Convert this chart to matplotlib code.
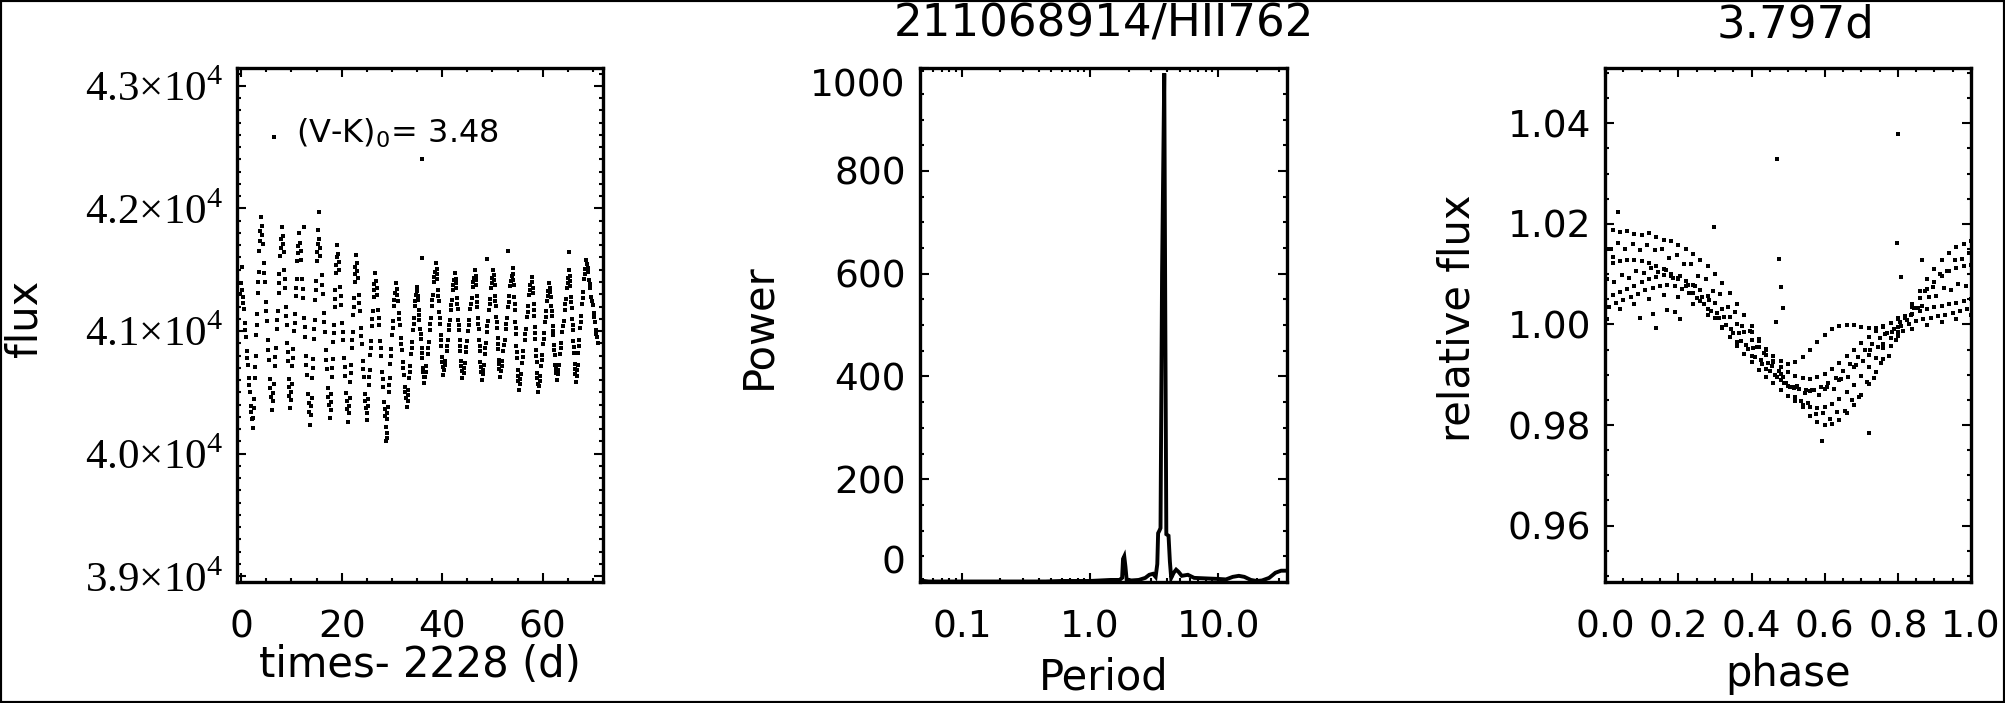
import numpy as np
import matplotlib
matplotlib.use("Agg")
import matplotlib.pyplot as plt
from matplotlib.ticker import MultipleLocator, LogLocator, NullFormatter
from matplotlib.patches import Rectangle

# ---------------- data ----------------
# light curve: points along each falling / rising branch (days since 2228, flux)
lc_time = [
    0.29, 0.49, 0.69, 0.89, 1.09, 1.28, 1.48, 1.68, 1.88, 2.08,
    2.42, 2.57, 2.71, 2.86, 3.00, 3.15, 3.29, 3.44, 3.58, 3.73,
    4.07, 4.27, 4.47, 4.67, 4.87, 5.07, 5.27, 5.47, 5.67, 5.87,
    6.26, 6.46, 6.65, 6.84, 7.03, 7.23, 7.42, 7.61, 7.80, 8.00,
    8.33, 8.47, 8.60, 8.74, 8.88, 9.02, 9.16, 9.30, 9.43, 9.57,
    9.87, 10.04, 10.20, 10.36, 10.52, 10.69, 10.85, 11.01, 11.17, 11.34,
    11.70, 11.90, 12.10, 12.30, 12.50, 12.69, 12.89, 13.09, 13.29, 13.49,
    13.84, 13.99, 14.14, 14.29, 14.44, 14.60, 14.75, 14.90, 15.05, 15.20,
    15.56, 15.77, 15.98, 16.19, 16.40, 16.62, 16.83, 17.04, 17.25, 17.46,
    17.80, 17.94, 18.07, 18.20, 18.33, 18.47, 18.60, 18.73, 18.86, 19.00,
    19.33, 19.53, 19.73, 19.93, 20.13, 20.32, 20.52, 20.72, 20.92, 21.12,
    21.46, 21.60, 21.74, 21.88, 22.02, 22.15, 22.29, 22.43, 22.57, 22.71,
    23.04, 23.24, 23.43, 23.62, 23.81, 24.01, 24.20, 24.39, 24.58, 24.78,
    25.12, 25.27, 25.42, 25.57, 25.72, 25.88, 26.03, 26.18, 26.33, 26.48,
    26.83, 27.03, 27.23, 27.43, 27.63, 27.82, 28.02, 28.22, 28.42, 28.62,
    28.99, 29.17, 29.34, 29.52, 29.69, 29.87, 30.04, 30.22, 30.39, 30.57,
    30.94, 31.14, 31.34, 31.54, 31.74, 31.93, 32.13, 32.33, 32.53, 32.73,
    33.11, 33.29, 33.47, 33.65, 33.83, 34.02, 34.20, 34.38, 34.56, 34.74,
    35.06, 35.20, 35.34, 35.48, 35.62, 35.75, 35.89, 36.03, 36.17, 36.31,
    36.66, 36.87, 37.08, 37.29, 37.50, 37.72, 37.93, 38.14, 38.35, 38.56,
    38.90, 39.04, 39.17, 39.30, 39.43, 39.57, 39.70, 39.83, 39.96, 40.10,
    40.44, 40.65, 40.86, 41.07, 41.28, 41.50, 41.71, 41.92, 42.13, 42.34,
    42.68, 42.82, 42.95, 43.08, 43.21, 43.35, 43.48, 43.61, 43.74, 43.88,
    44.24, 44.47, 44.70, 44.93, 45.16, 45.38, 45.61, 45.84, 46.07, 46.30,
    46.65, 46.77, 46.89, 47.01, 47.13, 47.25, 47.37, 47.49, 47.61, 47.73,
    48.06, 48.27, 48.48, 48.69, 48.90, 49.12, 49.33, 49.54, 49.75, 49.96,
    50.29, 50.41, 50.53, 50.65, 50.77, 50.90, 51.02, 51.14, 51.26, 51.38,
    51.73, 51.96, 52.19, 52.42, 52.65, 52.87, 53.10, 53.33, 53.56, 53.79,
    54.13, 54.24, 54.35, 54.46, 54.57, 54.67, 54.78, 54.89, 55.00, 55.11,
    55.46, 55.69, 55.93, 56.16, 56.40, 56.63, 56.87, 57.10, 57.34, 57.57,
    57.93, 58.05, 58.17, 58.29, 58.41, 58.54, 58.66, 58.78, 58.90, 59.02,
    59.34, 59.54, 59.73, 59.93, 60.13, 60.33, 60.53, 60.73, 60.92, 61.12,
    61.45, 61.59, 61.72, 61.85, 61.98, 62.12, 62.25, 62.38, 62.51, 62.65,
    63.01, 63.24, 63.47, 63.70, 63.93, 64.15, 64.38, 64.61, 64.84, 65.07,
    65.41, 65.53, 65.64, 65.76, 65.87, 65.99, 66.10, 66.22, 66.33, 66.45,
    66.75, 66.93, 67.12, 67.31, 67.50, 67.68, 67.87, 68.06, 68.25, 68.43,
    68.84, 69.05, 69.27, 69.49, 69.70, 69.92, 70.13, 70.35, 70.57, 70.78,
]
lc_flux = [
    41279, 41177, 41064, 40951, 40839, 40726, 40613, 40500, 40387, 40286,
    40293, 40449, 40621, 40794, 40966, 41139, 41312, 41484, 41657, 41812,
    41854, 41712, 41555, 41397, 41239, 41081, 40924, 40766, 40608, 40466,
    40431, 40565, 40715, 40865, 41014, 41164, 41313, 41463, 41613, 41747,
    41778, 41645, 41496, 41348, 41200, 41052, 40904, 40755, 40607, 40474,
    40441, 40570, 40712, 40855, 40998, 41141, 41283, 41426, 41569, 41697,
    41719, 41578, 41422, 41266, 41109, 40953, 40797, 40640, 40484, 40343,
    40314, 40457, 40616, 40775, 40934, 41093, 41252, 41411, 41570, 41713,
    41747, 41609, 41456, 41302, 41149, 40995, 40842, 40688, 40535, 40396,
    40360, 40487, 40628, 40769, 40911, 41052, 41193, 41335, 41476, 41603,
    41630, 41500, 41356, 41212, 41068, 40924, 40780, 40636, 40492, 40362,
    40329, 40451, 40587, 40723, 40859, 40995, 41131, 41267, 41403, 41525,
    41553, 41432, 41297, 41163, 41028, 40894, 40759, 40625, 40490, 40369,
    40335, 40442, 40562, 40682, 40801, 40921, 41040, 41160, 41280, 41387,
    41408, 41296, 41171, 41046, 40921, 40795, 40670, 40545, 40420, 40308,
    40279, 40384, 40501, 40618, 40735, 40852, 40969, 41086, 41203, 41308,
    41340, 41249, 41148, 41048, 40947, 40846, 40746, 40645, 40544, 40453,
    40432, 40520, 40618, 40716, 40814, 40912, 41010, 41107, 41205, 41293,
    41323, 41252, 41173, 41094, 41015, 40936, 40858, 40779, 40700, 40629,
    40623, 40711, 40809, 40907, 41005, 41103, 41201, 41298, 41396, 41484,
    41507, 41425, 41334, 41243, 41152, 41061, 40970, 40879, 40788, 40706,
    40683, 40758, 40841, 40924, 41007, 41090, 41173, 41255, 41338, 41413,
    41428, 41351, 41266, 41180, 41094, 41009, 40923, 40838, 40752, 40675,
    40659, 40739, 40827, 40915, 41004, 41092, 41180, 41268, 41357, 41436,
    41453, 41372, 41283, 41193, 41103, 41014, 40924, 40834, 40745, 40664,
    40646, 40727, 40816, 40906, 40996, 41085, 41175, 41265, 41354, 41435,
    41454, 41376, 41289, 41202, 41115, 41028, 40941, 40854, 40767, 40689,
    40672, 40752, 40840, 40929, 41017, 41105, 41194, 41282, 41371, 41450,
    41462, 41373, 41274, 41175, 41076, 40976, 40877, 40778, 40679, 40589,
    40566, 40649, 40742, 40834, 40927, 41019, 41111, 41204, 41296, 41379,
    41397, 41313, 41219, 41125, 41031, 40937, 40844, 40750, 40656, 40572,
    40550, 40630, 40718, 40807, 40895, 40983, 41072, 41160, 41249, 41328,
    41351, 41280, 41201, 41122, 41043, 40964, 40885, 40806, 40727, 40656,
    40646, 40727, 40816, 40906, 40996, 41085, 41175, 41265, 41354, 41435,
    41452, 41370, 41279, 41188, 41097, 41006, 40915, 40824, 40733, 40651,
    40637, 40726, 40825, 40925, 41024, 41123, 41223, 41322, 41421, 41510,
    41546, 41485, 41417, 41349, 41281, 41213, 41145, 41077, 41009, 40948,
]
# light curve: further points between the ones above, branch by branch
lc_time2 = [
    0.39, 0.79, 1.19, 1.58, 1.98, 2.50, 2.79, 3.08, 3.36, 3.65,
    4.17, 4.57, 4.97, 5.37, 5.77, 6.36, 6.74, 7.13, 7.52, 7.90,
    8.40, 8.67, 8.95, 9.23, 9.50, 9.95, 10.28, 10.61, 10.93, 11.26,
    11.80, 12.20, 12.60, 12.99, 13.39, 13.92, 14.22, 14.52, 14.82, 15.12,
    15.67, 16.09, 16.51, 16.93, 17.35, 17.87, 18.13, 18.40, 18.67, 18.93,
    19.43, 19.83, 20.23, 20.62, 21.02, 21.53, 21.81, 22.09, 22.36, 22.64,
    23.14, 23.52, 23.91, 24.30, 24.68, 25.20, 25.50, 25.80, 26.10, 26.40,
    26.93, 27.33, 27.73, 28.12, 28.52, 29.08, 29.43, 29.78, 30.13, 30.48,
    31.04, 31.44, 31.84, 32.23, 32.63, 33.20, 33.56, 33.93, 34.29, 34.65,
    35.13, 35.41, 35.69, 35.96, 36.24, 36.77, 37.19, 37.61, 38.03, 38.45,
    38.97, 39.23, 39.50, 39.77, 40.03, 40.55, 40.97, 41.39, 41.81, 42.23,
    42.75, 43.01, 43.28, 43.55, 43.81, 44.35, 44.81, 45.27, 45.73, 46.19,
    46.71, 46.95, 47.19, 47.43, 47.67, 48.17, 48.59, 49.01, 49.43, 49.85,
    50.35, 50.59, 50.84, 51.08, 51.32, 51.84, 52.30, 52.76, 53.22, 53.68,
    54.18, 54.40, 54.62, 54.84, 55.06, 55.57, 56.04, 56.52, 56.99, 57.46,
    57.99, 58.23, 58.48, 58.72, 58.96, 59.44, 59.83, 60.23, 60.63, 61.02,
    61.52, 61.78, 62.05, 62.32, 62.58, 63.12, 63.58, 64.04, 64.50, 64.96,
    65.47, 65.70, 65.93, 66.16, 66.39, 66.84, 67.22, 67.59, 67.97, 68.34,
    68.94, 69.38, 69.81, 70.24, 70.68,
]
lc_flux2 = [
    41228, 41008, 40782, 40557, 40337, 40371, 40708, 41053, 41398, 41735,
    41783, 41476, 41160, 40845, 40537, 40498, 40790, 41089, 41388, 41680,
    41711, 41422, 41126, 40829, 40540, 40506, 40784, 41069, 41355, 41633,
    41649, 41344, 41031, 40719, 40414, 40385, 40695, 41013, 41331, 41641,
    41678, 41379, 41072, 40765, 40466, 40423, 40699, 40981, 41264, 41540,
    41565, 41284, 40996, 40708, 40427, 40390, 40655, 40927, 41199, 41464,
    41492, 41230, 40961, 40692, 40430, 40389, 40622, 40861, 41100, 41333,
    41352, 41108, 40858, 40608, 40364, 40331, 40559, 40793, 41027, 41255,
    41294, 41098, 40897, 40695, 40499, 40476, 40667, 40863, 41059, 41249,
    41287, 41133, 40976, 40818, 40665, 40667, 40858, 41054, 41250, 41440,
    41466, 41289, 41107, 40924, 40747, 40721, 40882, 41048, 41214, 41376,
    41390, 41223, 41052, 40880, 40713, 40699, 40871, 41048, 41224, 41396,
    41413, 41238, 41058, 40879, 40704, 40686, 40861, 41041, 41220, 41395,
    41415, 41246, 41072, 40898, 40728, 40712, 40884, 41061, 41238, 41410,
    41418, 41224, 41026, 40828, 40634, 40608, 40788, 40973, 41158, 41338,
    41355, 41172, 40984, 40797, 40614, 40590, 40762, 40939, 41116, 41288,
    41315, 41161, 41003, 40846, 40692, 40686, 40861, 41041, 41220, 41395,
    41411, 41234, 41052, 40869, 40692, 40681, 40875, 41074, 41272, 41466,
    41515, 41383, 41247, 41111, 40978,
]
# light curve: maxima / minima of each cycle
ext_time = [0.09, 2.28, 3.87, 6.07, 8.19, 9.71, 11.50, 13.69, 15.35, 17.67, 19.13, 21.32,
            22.85, 24.97, 26.63, 28.82, 30.74, 32.93, 34.92, 36.45, 38.77, 40.23, 42.55,
            44.01, 46.53, 47.85, 50.17, 51.50, 54.02, 55.22, 57.81, 59.14, 61.32, 62.78,
            65.30, 66.56, 68.62, 71.00]
ext_flux = [41335, 40207, 41933, 40356, 41852, 40370, 41797, 40234, 41824, 40289, 41702, 40261,
            41620, 40275, 41471, 40220, 41390, 40383, 41362, 40574, 41553, 40642, 41471,
            40615, 41498, 40601, 41498, 40628, 41512, 40520, 41444, 40506, 41390, 40601,
            41498, 40587, 41580, 40900]
# light curve: isolated points
odd_time = [-0.24, -0.05, 0.16, 6.53, 12.50, 15.40, 28.75, 28.95, 29.08, 36.04, 36.04,
            48.94, 53.16, 65.30]
odd_flux = [41300, 41390, 41520, 42586, 41846, 41969, 40100, 40166, 40125, 41598, 42402,
            41586, 41653, 41643]

# periodogram
period_vals = [0.047, 0.055, 0.07, 0.1, 0.14, 0.2, 0.3, 0.45, 0.6, 0.8, 1.0, 1.2, 1.45, 1.7,
               1.78, 1.81, 1.85, 1.89, 1.93, 2.1, 2.4, 2.7, 2.9, 3.1, 3.25, 3.35, 3.4, 3.48,
               3.55, 3.65, 3.797, 3.87, 3.94, 4.1, 4.2, 4.3, 4.5, 4.7, 4.9, 5.2, 5.8, 6.5,
               8.0, 10.0, 11.5, 13.0, 14.5, 16.0, 18.0, 20.0, 22.0, 25.0, 28.0, 31.0, 34.7]
power_vals = [3, 1, 1, 1, 1, 1, 1, 1, 2, 2, 2, 3, 4, 4,
              8, 45, 50, 30, 5, 3, 4, 8, 14, 16, 10, 35, 95, 100,
              105, 600, 990, 500, 93, 90, 40, 8, 18, 24, 20, 12, 14, 8,
              7, 6, 5, 10, 12, 10, 4, 2, 3, 8, 18, 22, 22]

# phase-folded curve (P = 3.797 d)
phase_grid = [0.00, 0.02, 0.04, 0.06, 0.08, 0.10, 0.12, 0.14, 0.16, 0.18, 0.20, 0.22, 0.24,
              0.26, 0.28, 0.30, 0.32, 0.34, 0.36, 0.38, 0.40, 0.42, 0.44, 0.46, 0.48, 0.50,
              0.52, 0.54, 0.56, 0.58, 0.60, 0.62, 0.64, 0.66, 0.68, 0.70, 0.72, 0.74, 0.76,
              0.78, 0.80, 0.82, 0.84, 0.86, 0.88, 0.90, 0.92, 0.94, 0.96, 0.98, 1.00]
relflux_upper = [1.0192, 1.0188, 1.0183, 1.0186, 1.0180, 1.0178, 1.0181, 1.0174, 1.0168, 1.0165,
                 1.0158, 1.0150, 1.0140, 1.0128, 1.0116, 1.0100, 1.0082, 1.0062, 1.0041, 1.0018,
                 0.9996, 0.9972, 0.9950, 0.9925, 0.9902, 0.9878, 0.9856, 0.9836, 0.9818, 0.9806,
                 0.9800, 0.9802, 0.9810, 0.9823, 0.9840, 0.9860, 0.9882, 0.9906, 0.9932, 0.9958,
                 0.9985, 1.0012, 1.0040, 1.0066, 1.0090, 1.0110, 1.0128, 1.0142, 1.0153, 1.0160,
                 1.0165]
relflux_main = [1.0052, 1.0058, 1.0064, 1.0070, 1.0077, 1.0084, 1.0090, 1.0095, 1.0098, 1.0097,
                1.0093, 1.0087, 1.0078, 1.0068, 1.0056, 1.0043, 1.0030, 1.0015, 1.0000, 0.9985,
                0.9970, 0.9955, 0.9940, 0.9927, 0.9915, 0.9905, 0.9898, 0.9893, 0.9892, 0.9895,
                0.9902, 0.9912, 0.9924, 0.9937, 0.9950, 0.9963, 0.9975, 0.9986, 0.9995, 1.0003,
                1.0010, 1.0016, 1.0021, 1.0026, 1.0030, 1.0034, 1.0037, 1.0040, 1.0043, 1.0047,
                1.0050]
relflux_mid = [1.0118, 1.0122, 1.0126, 1.0128, 1.0129, 1.0127, 1.0123, 1.0117, 1.0110, 1.0101,
               1.0090, 1.0077, 1.0063, 1.0047, 1.0030, 1.0012, 0.9994, 0.9976, 0.9958, 0.9941,
               0.9925, 0.9910, 0.9896, 0.9883, 0.9870, 0.9858, 0.9848, 0.9840, 0.9835, 0.9833,
               0.9836, 0.9842, 0.9852, 0.9865, 0.9880, 0.9897, 0.9915, 0.9934, 0.9954, 0.9974,
               0.9994, 1.0014, 1.0034, 1.0053, 1.0070, 1.0085, 1.0097, 1.0106, 1.0112, 1.0116,
               1.0119]
phase_grid2 = [0.01, 0.03, 0.05, 0.07, 0.09, 0.11, 0.13, 0.15, 0.17, 0.19, 0.21, 0.23, 0.25,
               0.27, 0.29, 0.31, 0.33, 0.35, 0.37, 0.39, 0.41, 0.43, 0.45, 0.47, 0.49, 0.51,
               0.53, 0.55, 0.57, 0.59, 0.61, 0.63, 0.65, 0.67, 0.69, 0.71, 0.73, 0.75, 0.77,
               0.79, 0.81, 0.83, 0.85, 0.87, 0.89, 0.91, 0.93, 0.95, 0.97, 0.99]
relflux_main2 = [1.0035, 1.0042, 1.0048, 1.0055, 1.0061, 1.0068, 1.0072, 1.0077, 1.0078, 1.0076,
                 1.0070, 1.0062, 1.0052, 1.0040, 1.0027, 1.0013, 0.9998, 0.9983, 0.9967, 0.9951,
                 0.9936, 0.9921, 0.9907, 0.9895, 0.9884, 0.9876, 0.9871, 0.9869, 0.9870, 0.9875,
                 0.9883, 0.9894, 0.9907, 0.9921, 0.9935, 0.9949, 0.9962, 0.9973, 0.9982, 0.9990,
                 0.9996, 1.0001, 1.0006, 1.0010, 1.0013, 1.0016, 1.0019, 1.0022, 1.0026, 1.0031]
phase_grid3 = [0.005, 0.025, 0.045, 0.065, 0.085, 0.105, 0.125, 0.145, 0.165, 0.185, 0.205,
               0.225, 0.245, 0.265, 0.285, 0.305, 0.325, 0.345, 0.365, 0.385, 0.405, 0.425,
               0.445, 0.465, 0.485, 0.505, 0.525, 0.545, 0.565, 0.585, 0.605, 0.625, 0.645,
               0.665, 0.685, 0.705, 0.725, 0.745, 0.765, 0.785, 0.805, 0.825, 0.845, 0.865,
               0.885, 0.905, 0.925, 0.945, 0.965, 0.985]
relflux_between = [1.0091, 1.0085, 1.0099, 1.0092, 1.0106, 1.0102, 1.0113, 1.0104, 1.0109, 1.0093,
                   1.0096, 1.0079, 1.0076, 1.0054, 1.0049, 1.0023, 1.0015, 0.9990, 0.9983, 0.9960,
                   0.9953, 0.9929, 0.9924, 0.9900, 0.9896, 0.9876, 0.9877, 0.9864, 0.9869, 0.9860,
                   0.9875, 0.9872, 0.9891, 0.9895, 0.9919, 0.9927, 0.9950, 0.9956, 0.9981, 0.9984,
                   1.0005, 1.0009, 1.0032, 1.0037, 1.0055, 1.0056, 1.0073, 1.0068, 1.0081, 1.0076]
phase_grid4 = [0.015, 0.035, 0.055, 0.075, 0.095, 0.115, 0.135, 0.155, 0.175, 0.195, 0.215,
               0.235, 0.255, 0.275, 0.295, 0.315, 0.335, 0.355, 0.375, 0.395, 0.415, 0.435,
               0.455, 0.475, 0.495, 0.515, 0.535, 0.555, 0.575, 0.595, 0.615, 0.635, 0.655,
               0.675, 0.695, 0.715, 0.735, 0.755, 0.775, 0.795, 0.815, 0.835, 0.855, 0.875,
               0.895, 0.915, 0.935, 0.955, 0.975, 0.995]
relflux_high = [1.0150, 1.0161, 1.0151, 1.0160, 1.0149, 1.0158, 1.0149, 1.0150, 1.0133, 1.0138,
                1.0120, 1.0120, 1.0097, 1.0091, 1.0067, 1.0060, 1.0035, 1.0024, 0.9996, 0.9986,
                0.9956, 0.9944, 0.9917, 0.9908, 0.9883, 0.9873, 0.9848, 0.9844, 0.9822, 0.9823,
                0.9812, 0.9826, 0.9828, 0.9849, 0.9856, 0.9885, 0.9894, 0.9923, 0.9937, 0.9970,
                0.9987, 1.0018, 1.0033, 1.0066, 1.0075, 1.0101, 1.0107, 1.0128, 1.0130, 1.0143]
phase_grid5 = [0.00, 0.04, 0.08, 0.12, 0.16, 0.20, 0.24, 0.28, 0.32, 0.36, 0.40, 0.44, 0.48,
               0.52, 0.56, 0.60, 0.64, 0.68, 0.72, 0.76, 0.80, 0.84, 0.88, 0.92, 0.96, 1.00]
relflux_low = [1.0022, 1.0030, 1.0041, 1.0050, 1.0058, 1.0054, 1.0040, 1.0018, 0.9992, 0.9965,
               0.9938, 0.9912, 0.9890, 0.9875, 0.9868, 0.9872, 0.9890, 0.9915, 0.9940, 0.9962,
               0.9978, 0.9990, 0.9998, 1.0004, 1.0010, 1.0018]
phase_late = [0.40, 0.42, 0.44, 0.46, 0.48, 0.50, 0.52, 0.54, 0.56, 0.58, 0.60,
              0.62, 0.64, 0.66, 0.68, 0.70, 0.72, 0.74, 0.76, 0.78, 0.80]
relflux_late = [0.9985, 0.9968, 0.9952, 0.9938, 0.9928, 0.9922, 0.9925, 0.9935, 0.9950, 0.9966,
                0.9980, 0.9990, 0.9996, 0.9999, 0.9998, 0.9995, 0.9992, 0.9992, 0.9996, 1.0003,
                1.0012]
phase_extra = [0.035, 0.138, 0.297, 0.466, 0.471, 0.476, 0.481, 0.487, 0.594, 0.722, 0.797,
               0.801, 0.809, 0.866, 0.095, 0.130, 0.170, 0.190, 0.205, 0.005, 0.010, 0.020]
relflux_extra = [1.0224, 0.9992, 1.0193, 1.0004, 1.0328, 1.0130, 1.0074, 1.0032, 0.9768, 0.9784,
                 1.0161, 1.0379, 1.0095, 1.0129, 1.0012, 1.0020, 1.0028, 1.0025, 1.0010, 1.0010,
                 1.0150, 1.0135]

lc_ticks = [39000, 40000, 41000, 42000, 43000]
lc_ticklabels = ["3.9\u00d710$^{\\mathregular{4}}$", "4.0\u00d710$^{\\mathregular{4}}$",
                 "4.1\u00d710$^{\\mathregular{4}}$", "4.2\u00d710$^{\\mathregular{4}}$",
                 "4.3\u00d710$^{\\mathregular{4}}$"]
time_ticks = [0, 20, 40, 60]
period_ticks = [0.1, 1.0, 10.0]
period_ticklabels = ["0.1", "1.0", "10.0"]
power_ticks = [0, 200, 400, 600, 800, 1000]
phase_ticks = [0.0, 0.2, 0.4, 0.6, 0.8, 1.0]
relflux_ticks = [0.96, 0.98, 1.00, 1.02, 1.04]

# ---------------- figure ----------------
W, H = 2005, 703
plt.rcParams["font.family"] = ["DejaVu Sans"]
fig = plt.figure(figsize=(W / 100, H / 100), dpi=100)
fig.patch.set_facecolor("white")

TOP, BOT = 68.2, 582.0


def box(x0, x1):
    return [x0 / W, 1 - BOT / H, (x1 - x0) / W, (BOT - TOP) / H]


ax1 = fig.add_axes(box(236.5, 603.0))
ax2 = fig.add_axes(box(919.6, 1287.4))
ax3 = fig.add_axes(box(1605.2, 1971.0))

TICKSIZE = 27


def style(ax):
    for s in ax.spines.values():
        s.set_linewidth(2.4)
    ax.tick_params(which="both", direction="in", top=True, right=True, width=1.5, colors="k")
    ax.tick_params(which="major", length=6.5)
    ax.tick_params(which="minor", length=3)
    ax.tick_params(axis="x", which="both", pad=20, labelsize=TICKSIZE)
    ax.tick_params(axis="y", which="both", pad=10, labelsize=TICKSIZE)


for a in (ax1, ax2, ax3):
    style(a)

mk = dict(marker="s", ms=2.5, mew=0, ls="none", color="k")

# panel 1: light curve
ax1.plot(lc_time, lc_flux, **mk)
ax1.plot(lc_time2, lc_flux2, **mk)
ax1.plot(ext_time, ext_flux, **mk)
ax1.plot(odd_time, odd_flux, **mk)
ax1.set_xlim(-0.94, 72.0)
ax1.set_ylim(38953, 43144)
ax1.set_xticks(time_ticks, [str(v) for v in time_ticks])
ax1.set_yticks(lc_ticks, lc_ticklabels, fontfamily="Liberation Serif", fontsize=31)
ax1.xaxis.set_minor_locator(MultipleLocator(5))
ax1.yaxis.set_minor_locator(MultipleLocator(100))
fig.text(296 / W, 1 - 142.7 / H, r"(V-K)$_{\mathregular{0}}$= 3.48", fontsize=23,
         ha="left", va="baseline")

# panel 2: periodogram
ax2.plot(period_vals, power_vals, color="k", lw=2.8, solid_joinstyle="miter")
ax2.set_xscale("log")
ax2.set_xlim(0.0468, 34.7)
ax2.set_ylim(0, 1000)
ax2.set_xticks(period_ticks, period_ticklabels)
ax2.xaxis.set_minor_locator(LogLocator(base=10, subs=[2, 3, 4, 5, 6, 7, 8, 9]))
ax2.xaxis.set_minor_formatter(NullFormatter())
ax2.set_yticks(power_ticks, [str(v) for v in power_ticks])
ax2.yaxis.set_minor_locator(MultipleLocator(50))
ylabs = ax2.get_yticklabels()
ylabs[0].set_va("bottom")
ylabs[-1].set_va("top")

# panel 3: phase-folded
for px, py in ((phase_grid, relflux_upper), (phase_grid, relflux_main),
               (phase_grid, relflux_mid), (phase_grid2, relflux_main2),
               (phase_grid3, relflux_between), (phase_grid4, relflux_high),
               (phase_grid5, relflux_low), (phase_late, relflux_late),
               (phase_extra, relflux_extra)):
    ax3.plot(px, py, **mk)
ax3.set_xlim(0, 1)
ax3.set_ylim(0.94879, 1.05095)
ax3.set_xticks(phase_ticks, ["%.1f" % v for v in phase_ticks])
ax3.set_yticks(relflux_ticks, ["%.2f" % v for v in relflux_ticks])
ax3.xaxis.set_minor_locator(MultipleLocator(0.05))
ax3.yaxis.set_minor_locator(MultipleLocator(0.005))

# titles and axis titles
fig.text(1103.5 / W, 1 - 37 / H, "211068914/HII762", fontsize=32.5, ha="center", va="baseline")
fig.text(1795 / W, 1 - 37 / H, "3.797d", fontsize=32.5, ha="center", va="baseline")

LAB = 30
fig.text(420 / W, 1 - 677 / H, "times- 2228 (d)", fontsize=LAB, ha="center", va="baseline")
fig.text(1103.5 / W, 1 - 690 / H, "Period", fontsize=LAB, ha="center", va="baseline")
fig.text(1788 / W, 1 - 686 / H, "phase", fontsize=LAB, ha="center", va="baseline")
fig.text(25 / W, 1 - 318 / H, "flux", fontsize=LAB, ha="center", va="center", rotation=90)
fig.text(758 / W, 1 - 326 / H, "Power", fontsize=LAB, ha="center", va="center", rotation=90)
fig.text(1458 / W, 1 - 318 / H, "relative flux", fontsize=LAB, ha="center", va="center",
         rotation=90)

# outer frame
fig.patches.append(Rectangle((0, 0), 1, 1, transform=fig.transFigure, fill=False,
                             edgecolor="k", lw=3, zorder=10))

fig.savefig("out.png", dpi=100, facecolor="white")
